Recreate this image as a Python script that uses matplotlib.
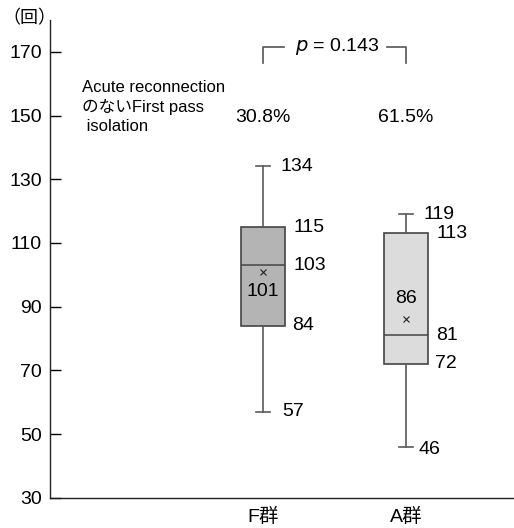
import matplotlib
matplotlib.use("Agg")
import matplotlib.pyplot as plt

plt.rcParams['font.family'] = ['Liberation Sans', 'Noto Sans CJK JP', 'DejaVu Sans']

groups = ['F群', 'A群']
whislo = [57, 46]
q1 = [84, 72]
med = [103, 81]
q3 = [115, 113]
whishi = [134, 119]
means = [101, 86]
rates = ['30.8%', '61.5%']
p_text = '$p$ = 0.143'
y_ticks = [30, 50, 70, 90, 110, 130, 150, 170]
note = 'Acute reconnection\nのないFirst pass\n isolation'
unit = '（回）'

fig = plt.figure(figsize=(5.14, 5.28), dpi=100)
ax = fig.add_axes([50/514, 30.3/528, 464/514, 477.7/528])

pos = [1, 2]
colors = ['#b4b4b4', '#dcdcdc']
stats = []
for i in range(2):
    stats.append(dict(whislo=whislo[i], q1=q1[i], med=med[i], q3=q3[i],
                      whishi=whishi[i], mean=means[i], label=groups[i]))
bp = ax.bxp(stats, positions=pos, widths=0.31, showmeans=True, patch_artist=True,
            showfliers=False,
            boxprops=dict(edgecolor='#444444', linewidth=1.2),
            medianprops=dict(color='#444444', linewidth=1.1),
            whiskerprops=dict(color='#5a5a5a', linewidth=1.2),
            capprops=dict(color='#5a5a5a', linewidth=1.2),
            meanprops=dict(marker='x', markeredgecolor='#222222', markersize=4.5,
                           markeredgewidth=0.8))
for patch, c in zip(bp['boxes'], colors):
    patch.set_facecolor(c)
for cap in bp['caps']:
    x = cap.get_xdata()
    cx = (x[0] + x[1]) / 2
    cap.set_xdata([cx - 0.05, cx + 0.05])

fs = 14
ax.set_xlim(-0.49, 2.755)
ax.set_ylim(30, 180)
ax.set_yticks(y_ticks)
ax.set_xticks(pos)
ax.set_xticklabels(groups, fontsize=fs)
ax.tick_params(axis='y', direction='in', length=8, width=1, labelsize=fs, pad=6)
ax.tick_params(axis='x', length=0, pad=7)
for s in ['top', 'right']:
    ax.spines[s].set_visible(False)
for s in ['left', 'bottom']:
    ax.spines[s].set_linewidth(1.0)
    ax.spines[s].set_color('#222222')

def lab(x, y, t, dx, dy=0):
    ax.annotate(t, (x, y), xytext=(dx, dy), textcoords='offset pixels',
                ha='left', va='center', fontsize=fs)

hw = 0.155
for i in range(2):
    x = pos[i]
    lab(x, whishi[i], str(whishi[i]), 17)
    lab(x + hw, q3[i], str(q3[i]), 8)
    lab(x + hw, med[i], str(med[i]), 8)
    lab(x + hw, q1[i], str(q1[i]), 7)
    lab(x, whislo[i], str(whislo[i]), 19 if i == 0 else 12, 0 if i == 0 else -3)
    ax.annotate(str(means[i]), (x, means[i]), xytext=(0, -20 if i == 0 else 21),
                textcoords='offset pixels', ha='center', va='center', fontsize=fs)
    ax.text(x, 149.5, rates[i], ha='center', va='center', fontsize=fs)

# p-value bracket
bc = '#555555'
ax.plot([pos[0], pos[0], pos[0] + 0.147], [166.6, 171.6, 171.6], color=bc, lw=1.2)
ax.plot([pos[1] - 0.13, pos[1], pos[1]], [171.6, 171.6, 166.6], color=bc, lw=1.2)
ax.text(1.52, 171.6, p_text, ha='center', va='center', fontsize=fs)

ax.text(82/514, 1 - 107/528, note, transform=fig.transFigure, ha='left', va='center',
        fontsize=12, linespacing=1.3,
        family=['Liberation Sans', 'Noto Sans CJK JP'])
fig.text(2/514, 1 - 18/528, unit, ha='left', va='center', fontsize=13,
         family=['Noto Sans CJK JP', 'Liberation Sans'])

fig.savefig('out.png', dpi=100)
